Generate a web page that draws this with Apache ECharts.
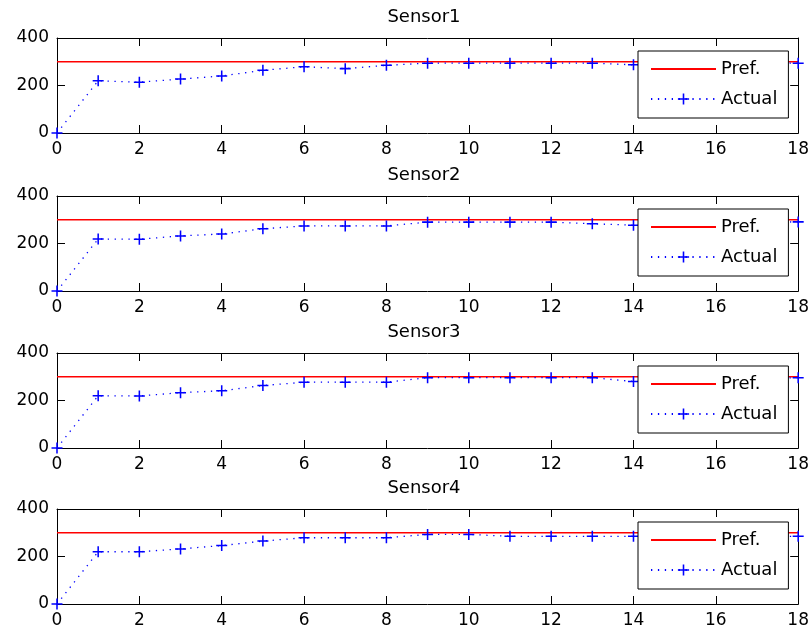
<!DOCTYPE html>
<html>
<head>
<meta charset="utf-8">
<script src="https://cdn.jsdelivr.net/npm/echarts@6/dist/echarts.min.js"></script>
<style>
  html, body { margin: 0; padding: 0; background: #fff; }
  #chart { width: 812px; height: 635px; }
</style>
</head>
<body>
<div id="chart"></div>
<script>
// Sample steps (x) shared by every sensor panel
const steps = [0, 1, 2, 3, 4, 5, 6, 7, 8, 9, 10, 11, 12, 13, 14, 15, 16, 17, 18];

// Reference (set-point) value
const prefValue = [300, 300, 300, 300, 300, 300, 300, 300, 300, 300, 300, 300, 300, 300, 300, 300, 300, 300, 300];

// Measured values per sensor
const sensor1 = [0, 220, 214, 227, 240, 264, 279, 271, 285, 294, 294, 294, 294, 294, 287, 290, 292, 293, 294];
const sensor2 = [0, 219, 218, 232, 240, 262, 274, 274, 274, 290, 290, 290, 290, 283, 277, 282, 286, 289, 291];
const sensor3 = [0, 220, 219, 233, 241, 263, 277, 277, 277, 296, 296, 296, 296, 296, 280, 286, 290, 294, 296];
const sensor4 = [0, 220, 220, 232, 246, 265, 279, 279, 279, 293, 293, 285, 285, 285, 285, 285, 285, 285, 285];

const panelTitles = ['Sensor1', 'Sensor2', 'Sensor3', 'Sensor4'];
const panelValues = [sensor1, sensor2, sensor3, sensor4];
const seriesNames = ['Pref.', 'Actual'];

// Axis ranges
const xMin = 0, xMax = 18, xStep = 2;
const yMin = 0, yMax = 400, yStep = 200;

// Layout
const panelTops = [38, 196, 353, 509];
const panelHeight = 95;
const plotLeft = 57;
const plotWidth = 742;
const FONT = 'DejaVu Sans';

// Plus-shaped marker
const plusSymbol = 'path://M4.3,0h1.4v4.3h4.3v1.4h-4.3v4.3h-1.4v-4.3h-4.3v-1.4h4.3z';

const chart = echarts.init(document.getElementById('chart'), null, { renderer: 'canvas' });

const grids = [], xAxes = [], yAxes = [], series = [], titles = [], legends = [];

const axisLine = { show: true, onZero: false, lineStyle: { color: '#000', width: 1 } };
const axisTick = { show: true, inside: true, length: 8, lineStyle: { color: '#000', width: 1 } };
const labelStyle = { fontFamily: FONT, fontSize: 17, color: '#000' };

panelTitles.forEach((title, i) => {
  const top = panelTops[i];
  grids.push({ left: plotLeft, width: plotWidth, top: top, height: panelHeight, show: false });

  // bottom + top x axes (box frame with inner ticks)
  xAxes.push({
    type: 'value', gridIndex: i, position: 'bottom', min: xMin, max: xMax, interval: xStep,
    axisLine, axisTick, splitLine: { show: false },
    axisLabel: Object.assign({ margin: 8 }, labelStyle)
  });
  xAxes.push({
    type: 'value', gridIndex: i, position: 'top', min: xMin, max: xMax, interval: xStep,
    axisLine, axisTick, splitLine: { show: false }, axisLabel: { show: false }
  });

  // left + right y axes
  yAxes.push({
    type: 'value', gridIndex: i, position: 'left', min: yMin, max: yMax, interval: yStep,
    axisLine, axisTick, splitLine: { show: false },
    axisLabel: Object.assign({ margin: 8 }, labelStyle)
  });
  yAxes.push({
    type: 'value', gridIndex: i, position: 'right', min: yMin, max: yMax, interval: yStep,
    axisLine, axisTick, splitLine: { show: false }, axisLabel: { show: false }
  });

  series.push({
    type: 'line', name: seriesNames[0],
    xAxisIndex: 2 * i, yAxisIndex: 2 * i,
    data: steps.map((x, k) => [x, prefValue[k]]),
    symbol: 'none',
    lineStyle: { color: '#ff0000', width: 1.5 },
    itemStyle: { color: '#ff0000' },
    z: 2
  });
  series.push({
    type: 'line', name: seriesNames[1],
    xAxisIndex: 2 * i, yAxisIndex: 2 * i,
    data: steps.map((x, k) => [x, panelValues[i][k]]),
    symbol: plusSymbol, symbolSize: 11, showAllSymbol: true,
    clip: false,
    lineStyle: { color: '#0000ff', width: 1.3, type: [1.3, 5.6] },
    itemStyle: { color: '#0000ff' },
    z: 3
  });

  titles.push({
    text: title, left: plotLeft + plotWidth / 2 - 4, top: top - 30, textAlign: 'center', padding: 0,
    textStyle: { fontFamily: FONT, fontSize: 18, fontWeight: 'normal', color: '#000', lineHeight: 18 }
  });

  legends.push({
    left: 638, top: top + 13, orient: 'vertical',
    data: [{ name: seriesNames[0], itemStyle: { opacity: 0 } }, seriesNames[1]],
    backgroundColor: '#fff', borderColor: '#000', borderWidth: 1, borderRadius: 0,
    padding: [8, 11, 9, 12], itemWidth: 65, itemHeight: 14, itemGap: 10,
    selectedMode: false,
    textStyle: { fontFamily: FONT, fontSize: 18, color: '#000', lineHeight: 20 },
    z: 10
  });
});

chart.setOption({
  animation: false,
  backgroundColor: '#fff',
  title: titles,
  legend: legends,
  grid: grids,
  xAxis: xAxes,
  yAxis: yAxes,
  series: series
});
</script>
</body>
</html>
